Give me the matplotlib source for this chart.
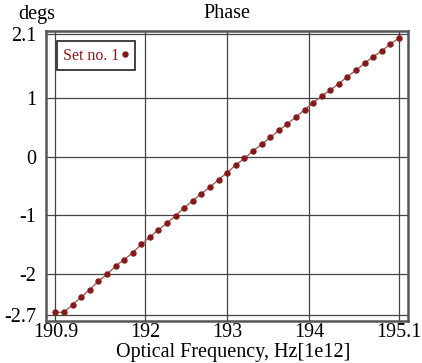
import numpy as np
import matplotlib
matplotlib.use("Agg")
import matplotlib.pyplot as plt

plt.rcParams['font.family'] = ['Liberation Serif', 'DejaVu Serif']

# frequency grid (1e12 Hz) and measured phase (degs)
freq = np.linspace(190.9, 195.1, 41)
phase = [-2.66, -2.66, -2.53, -2.40, -2.27, -2.13, -2.01, -1.87, -1.76, -1.64,
         -1.50, -1.37, -1.25, -1.13, -1.01, -0.87, -0.75, -0.63, -0.52, -0.39,
         -0.27, -0.14, -0.03, 0.10, 0.21, 0.33, 0.45, 0.56, 0.68, 0.80,
         0.92, 1.04, 1.14, 1.25, 1.37, 1.48, 1.60, 1.71, 1.81, 1.93, 2.03]

xticks = [190.9, 192, 193, 194, 195.1]
xticklabels = ['190.9', '192', '193', '194', '195.1']
yticks = [-2.7, -2, -1, 0, 1, 2.1]
yticklabels = ['-2.7', '-2', '-1', '0', '1', '2.1']

W, H = 422, 363
fig = plt.figure(figsize=(W / 100, H / 100), dpi=100)
ax = fig.add_axes([46 / W, 1 - 320.5 / H, 362 / W, 289.5 / H])

ax.plot(freq, phase, '-', color='#a4625a', lw=1.0, zorder=3)
ax.plot(freq, phase, 'o', color='#861a1a', ms=3.6, zorder=4,
        label='Set no. 1')

ax.set_xlim(190.785, 195.21)
ax.set_ylim(-2.80, 2.15)
ax.set_xticks(xticks)
ax.set_xticklabels(xticklabels)
ax.set_yticks(yticks)
ax.set_yticklabels(yticklabels)
ax.tick_params(length=0, labelsize=14.5)
ax.tick_params(axis='y', pad=7)
ax.tick_params(axis='x', pad=2)
ax.grid(True, color='#444444', lw=0.9)
ax.set_axisbelow(True)
for s in ax.spines.values():
    s.set_color('#555555')
    s.set_linewidth(1.8)

leg = ax.legend(loc='upper left', markerfirst=False, handlelength=0.4,
                handletextpad=0.15, borderpad=0.4, borderaxespad=0,
                fontsize=11.5, bbox_to_anchor=(0.030, 0.965),
                fancybox=False, framealpha=1)
leg.get_frame().set_edgecolor('#222222')
leg.get_frame().set_linewidth(1.2)
for t in leg.get_texts():
    t.set_color('#861a1a')

fig.text(37 / W, 1 - 14 / H, 'degs', ha='center', va='center', fontsize=14.5)
fig.text(227 / W, 1 - 14 / H, 'Phase', ha='center', va='center', fontsize=14.5)
fig.text(233 / W, 1 - 353 / H, 'Optical Frequency, Hz[1e12]',
         ha='center', va='center', fontsize=14.5)

fig.savefig('out.png', dpi=100)
